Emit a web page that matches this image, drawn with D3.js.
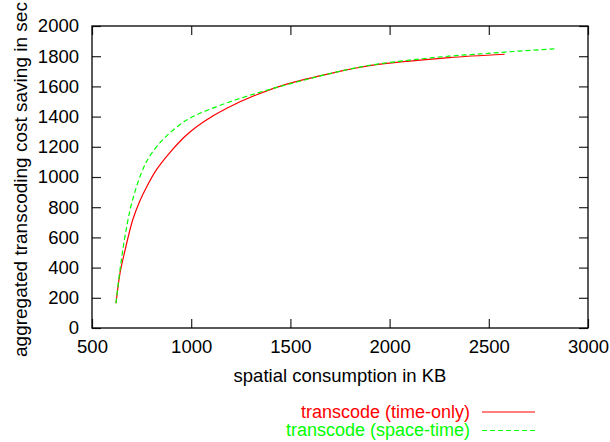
<!DOCTYPE html>
<html>
<head>
<meta charset="utf-8">
<script src="https://cdn.jsdelivr.net/npm/d3@7"></script>
<style>
  body { margin: 0; background: #fff; }
  text { font-family: "Liberation Sans", Arial, Helvetica, sans-serif; }
</style>
</head>
<body>
<div id="chart"></div>
<script>
const width = 610
const height = 442
const margin = { top: 26, right: 22, bottom: 114, left: 92 }

// data
const timeOnlyX = [621, 641, 663, 705, 740, 776, 826, 885, 960, 1000, 1061, 1179, 1330, 1481, 1716, 1900, 2100, 2300, 2580]
const timeOnlyY = [164, 362, 495, 715, 838, 936, 1050, 1150, 1258, 1305, 1365, 1455, 1545, 1615, 1690, 1737, 1768, 1791, 1813]
const spaceTimeX = [621, 641, 666, 700, 750, 792, 868, 977, 1078, 1229, 1422, 1498, 1716, 1900, 2100, 2300, 2498, 2652, 2830]
const spaceTimeY = [164, 384, 605, 826, 1030, 1140, 1262, 1377, 1440, 1513, 1590, 1617, 1690, 1740, 1774, 1800, 1819, 1834, 1848]
const xTicks = [500, 1000, 1500, 2000, 2500, 3000]
const yTicks = [0, 200, 400, 600, 800, 1000, 1200, 1400, 1600, 1800, 2000]
const seriesNames = ["transcode (time-only)", "transcode (space-time)"]
const seriesColors = ["#ff0000", "#00ff00"]

const innerW = width - margin.left - margin.right
const innerH = height - margin.top - margin.bottom

const svg = d3.select("div#chart").append("svg").attr("width", width).attr("height", height)
svg.append("rect").attr("width", width).attr("height", height).attr("fill", "#fff")

const g = svg.append("g").attr("transform", `translate(${margin.left}, ${margin.top})`)

const x = d3.scaleLinear().domain([500, 3000]).range([0, innerW])
const y = d3.scaleLinear().domain([0, 2000]).range([innerH, 0])

const fs = 18.5

// axes, ticks pointing inward on all four sides
const xAxisGroup = g.append("g").attr("transform", `translate(0, ${innerH})`)
  .call(d3.axisBottom(x).tickValues(xTicks).tickFormat(d3.format("d")).tickSizeInner(-9).tickSizeOuter(0).tickPadding(12))
const xTopGroup = g.append("g")
  .call(d3.axisTop(x).tickValues(xTicks).tickSizeInner(-9).tickSizeOuter(0).tickFormat(""))
const yAxisGroup = g.append("g")
  .call(d3.axisLeft(y).tickValues(yTicks).tickFormat(d3.format("d")).tickSizeInner(-9).tickSizeOuter(0).tickPadding(13))
const yRightGroup = g.append("g").attr("transform", `translate(${innerW}, 0)`)
  .call(d3.axisRight(y).tickValues(yTicks).tickSizeInner(-9).tickSizeOuter(0).tickFormat(""))

g.selectAll(".domain").remove()
g.selectAll(".tick line").attr("stroke", "#222").attr("stroke-width", 1.2)
g.selectAll(".tick text").attr("font-size", fs).attr("fill", "#000")
  .attr("font-family", '"Liberation Sans", Arial, sans-serif')

// frame
g.append("rect").attr("width", innerW).attr("height", innerH)
  .attr("fill", "none").attr("stroke", "#000").attr("stroke-width", 1.3)

// lines
const line = d3.line().x(d => x(d[0])).y(d => y(d[1])).curve(d3.curveCatmullRom.alpha(0.5))
const timeOnly = timeOnlyX.map((v, i) => [v, timeOnlyY[i]])
const spaceTime = spaceTimeX.map((v, i) => [v, spaceTimeY[i]])

g.append("path").datum(timeOnly).attr("d", line)
  .attr("fill", "none").attr("stroke", seriesColors[0]).attr("stroke-width", 1.2)
g.append("path").datum(spaceTime).attr("d", line)
  .attr("fill", "none").attr("stroke", seriesColors[1]).attr("stroke-width", 1.2)
  .attr("stroke-dasharray", "5,3")

// axis titles
svg.append("text")
  .attr("x", margin.left + innerW / 2).attr("y", 382)
  .attr("text-anchor", "middle").attr("font-size", fs)
  .text("spatial consumption in KB")

svg.append("text")
  .attr("transform", "rotate(-90)")
  .attr("x", -357).attr("y", 27)
  .attr("text-anchor", "start").attr("font-size", 19)
  .text("aggregated transcoding cost saving in sec")

// legend
const legend = svg.append("g")
seriesNames.forEach((name, i) => {
  const ly = 412 + i * 18.5
  legend.append("text")
    .attr("x", 470).attr("y", ly + 5.5)
    .attr("text-anchor", "end").attr("font-size", 18)
    .attr("fill", seriesColors[i])
    .text(name)
  legend.append("line")
    .attr("x1", 482).attr("x2", 535).attr("y1", ly).attr("y2", ly)
    .attr("stroke", seriesColors[i]).attr("stroke-width", 1.2)
    .attr("stroke-dasharray", i === 1 ? "5,3" : null)
})
</script>
</body>
</html>
